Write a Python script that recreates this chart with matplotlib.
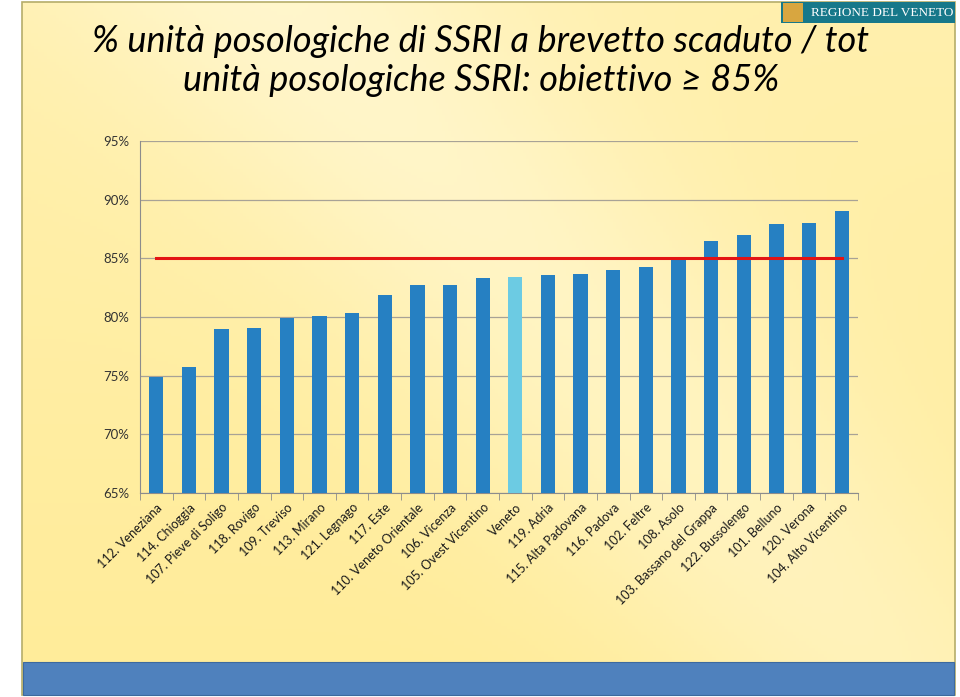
import numpy as np
import matplotlib
matplotlib.use("Agg")
import matplotlib.pyplot as plt
from matplotlib.patches import Rectangle

# ---------------- dati ----------------
aziende = [
    "112. Veneziana", "114. Chioggia", "107. Pieve di Soligo", "118. Rovigo",
    "109. Treviso", "113. Mirano", "121. Legnago", "117. Este",
    "110. Veneto Orientale", "106. Vicenza", "105. Ovest Vicentino", "Veneto",
    "119. Adria", "115. Alta Padovana", "116. Padova", "102. Feltre",
    "108. Asolo", "103. Bassano del Grappa", "122. Bussolengo", "101. Belluno",
    "120. Verona", "104. Alto Vicentino",
]
valori = [74.9, 75.7, 79.0, 79.1, 79.9, 80.05, 80.3, 81.85, 82.7, 82.7, 83.3, 83.4,
          83.6, 83.7, 84.0, 84.3, 85.1, 86.5, 87.0, 87.9, 88.0, 89.05]
obiettivo = [85.0] * len(aziende)
y_ticks = [65, 70, 75, 80, 85, 90, 95]

titolo = ("% unità posologiche di SSRI a brevetto scaduto / tot\n"
          "unità posologiche SSRI: obiettivo \u2265 85%")

# ---------------- figura / sfondo slide ----------------
fig = plt.figure(figsize=(9.6, 6.97), dpi=100)
fig.patch.set_facecolor("white")

bg = fig.add_axes([0, 0, 1, 1], zorder=-10)
bg.set_xlim(0, 960)
bg.set_ylim(697, 0)
bg.axis("off")

# gradiente giallo con riflesso diagonale
gx, gy = np.meshgrid(np.linspace(0, 1, 300), np.linspace(0, 1, 220))
d = np.exp(-((gx * 0.9 - gy * 0.6 - 0.25) ** 2) / 0.05) * 0.6 + (1 - gy) * 0.4
c0 = np.array([1.0, 0.925, 0.60])
c1 = np.array([1.0, 0.965, 0.80])
img = c0 + (c1 - c0) * d[..., None].clip(0, 1)
bg.imshow(img, extent=(22, 955, 695, 2), aspect="auto", zorder=0)
bg.add_patch(Rectangle((22, 2), 933, 693, fill=False, ec="#b5ad6a", lw=1.2, zorder=2))
bg.add_patch(Rectangle((23, 662), 931, 33, fc="#4f81bd", ec="#3d6a9e", lw=0.8, zorder=3))

# logo Regione del Veneto
bg.add_patch(Rectangle((781, 2), 174, 21, fc="#17788a", ec="none", zorder=3))
bg.add_patch(Rectangle((783, 3), 20, 19, fc="#d8a640", ec="none", zorder=4))
bg.text(882, 13, "REGIONE DEL VENETO", color="white", fontsize=9.5,
        family="Liberation Serif", ha="center", va="center", zorder=5)

bg.text(481, 61, titolo, ha="center", va="center", fontsize=26, style="italic",
        family="Lato", linespacing=1.2, color="black", zorder=5)

# ---------------- grafico ----------------
ax = fig.add_axes([140 / 960, 1 - 493 / 697, 718 / 960, 352 / 697])
ax.set_facecolor("none")
x = np.arange(len(aziende))
colori = ["#6ccbe3" if a == "Veneto" else "#2680c2" for a in aziende]
ax.bar(x, valori, width=0.44, color=colori, zorder=3)
ax.plot(x, obiettivo, color="#e31414", lw=2.2, zorder=4)

ax.set_ylim(65, 95)
ax.set_xlim(-0.5, len(aziende) - 0.5)
ax.set_yticks(y_ticks)
ax.set_yticklabels([f"{v}%" for v in y_ticks], fontsize=9.5, family="Lato", color="#333333")
ax.yaxis.grid(True, color="#a8a296", lw=0.9, zorder=0)
ax.tick_params(axis="y", length=0, pad=8)

ax.set_xticks(x)
ax.set_xticklabels(aziende, rotation=45, ha="right", rotation_mode="anchor",
                   fontsize=9, family="Lato", color="#1a1a1a")
ax.tick_params(axis="x", which="major", length=0, pad=6)
ax.set_xticks(np.arange(-0.5, len(aziende)), minor=True)
ax.tick_params(axis="x", which="minor", length=5, color="#8c8c8c", direction="out")

for s in ["top", "right"]:
    ax.spines[s].set_visible(False)
ax.spines["left"].set_color("#8c8c8c")
ax.spines["bottom"].set_color("#8c8c8c")

fig.savefig("out.png", dpi=100)
